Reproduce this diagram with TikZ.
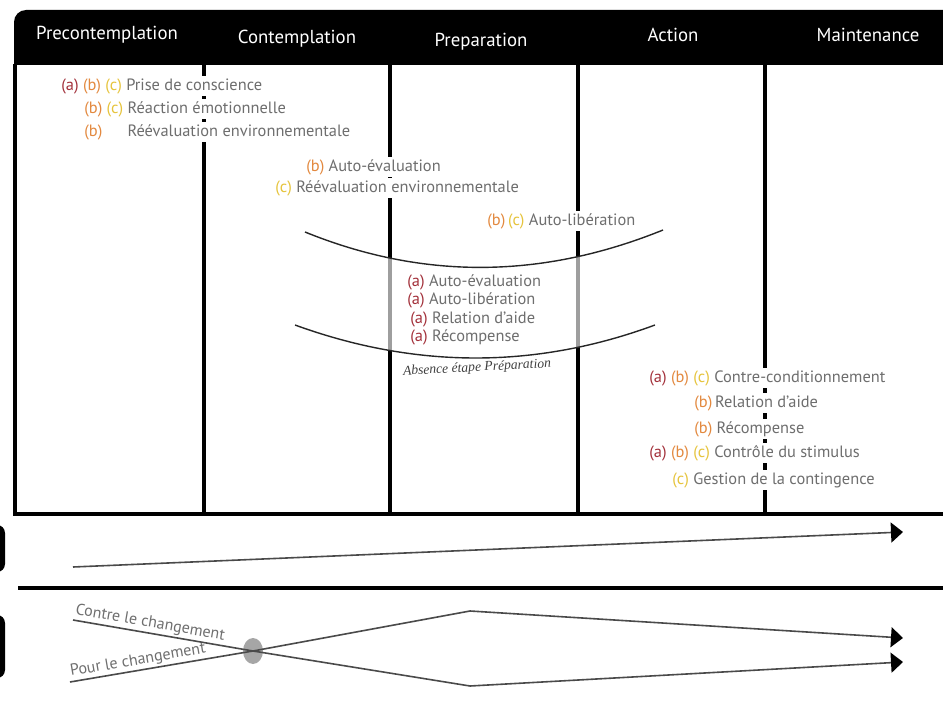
\documentclass[tikz,border=0pt]{standalone}
\usepackage{fontspec}
\setmainfont{PT Sans}
\newfontfamily\notefont{Liberation Serif}
\usetikzlibrary{arrows.meta,positioning,calc,shapes.geometric}
\definecolor{procA}{HTML}{A3313B}
\definecolor{procB}{HTML}{E3893F}
\definecolor{procC}{HTML}{E6C43C}
\definecolor{itemgray}{HTML}{6E6E6E}
\definecolor{linegray}{HTML}{4A4A4A}
\tikzset{
  stg/head/.style={text=white, font=\fontsize{9.4}{11}\selectfont, inner sep=1pt},
  stg/item/.style={fill=white, text=itemgray, font=\fontsize{8.2}{10}\selectfont, inner xsep=1pt, inner ysep=1.2pt, anchor=west},
  stg/note/.style={text=black!75, font=\notefont\itshape\fontsize{6.8}{8}\selectfont, inner sep=1pt},
  stg/frame/.style={line width=1.6pt},
  stg/divider/.style={line width=1.6pt},
  stg/arc/.style={line width=0.7pt, black!85},
  stg/veil/.style={fill=white, opacity=0.62},
  stg/tab/.style={fill=black, rounded corners=4pt},
  stg/trend/.style={line width=0.8pt, draw=linegray, -{Triangle[length=6pt,width=10pt,color=black]}},
  stg/tag/.style={text=itemgray, font=\fontsize{8}{10}\selectfont, inner sep=1pt},
  stg/knot/.style={ellipse, fill=black!35, minimum width=10pt, minimum height=13pt, inner sep=0pt}
}
\newcommand{\pa}{\textcolor{procA}{(a)}}
\newcommand{\pb}{\textcolor{procB}{(b)}}
\newcommand{\pc}{\textcolor{procC}{(c)}}

\begin{document}
\begin{tikzpicture}[x=0.5pt, y=-0.5pt]
  \clip (0,0) rectangle (943,701);
  % header band
  \fill[black] (14,65) [rounded corners=6pt] -- (14,10) [sharp corners] -- (950,10) -- (950,65) -- cycle;
  \node[stg/head] (hpre) at (107,35) {Precontemplation};
  \node[stg/head] (hcon) at (297,39) {Contemplation};
  \node[stg/head] (hprep) at (481,42) {Preparation};
  \node[stg/head] (hact) at (673,35) {Action};
  \node[stg/head] (hmain) at (868,35) {Maintenance};
  % frame and stage dividers
  \draw[stg/frame] (15,64) -- (15,514) -- (950,514);
  \foreach \x in {204,390,578,765}
    \draw[stg/divider] (\x,64) -- (\x,514);
  % arcs round the preparation block
  \coordinate (arcA1) at (305,232);
  \coordinate (arcAc1) at (423,280);
  \coordinate (arcAc2) at (542,279);
  \coordinate (arcA2) at (663,230);
  \coordinate (arcB1) at (295,325);
  \coordinate (arcBc1) at (416,369);
  \coordinate (arcBc2) at (536,369);
  \coordinate (arcB2) at (655,325);
  \begin{scope}
    \clip (386,0) rectangle (582,701);
    \fill[stg/veil] (arcA1) .. controls (arcAc1) and (arcAc2) .. (arcA2) -- (arcB2) .. controls (arcBc2) and (arcBc1) .. (arcB1) -- cycle;
  \end{scope}
  \draw[stg/arc] (arcA1) .. controls (arcAc1) and (arcAc2) .. (arcA2);
  \draw[stg/arc] (arcB1) .. controls (arcBc1) and (arcBc2) .. (arcB2);
  % precontemplation
  \node[stg/item] (pc1) at (59,86) {\pa{} \pb{} \pc{} Prise de conscience};
  \node[stg/item] (pc2) at (82,109) {\pb{} \pc{} Réaction émotionnelle};
  \node[stg/item] (pc3) at (82,132) {\pb{} \hphantom{\pc{}} Réévaluation environnementale};
  % contemplation
  \node[stg/item] (ct1) at (304,167) {\pb{} Auto-évaluation};
  \node[stg/item] (ct2) at (273,188) {\pc{} Réévaluation environnementale};
  % preparation
  \node[stg/item] (pr1) at (485,221) {\pb\,\pc{} Auto-libération};
  \node[stg/item, fill=none] (pr2) at (405,282) {\pa{} Auto-évaluation};
  \node[stg/item, fill=none] (pr3) at (405,300) {\pa{} Auto-libération};
  \node[stg/item, fill=none] (pr4) at (408,319) {\pa{} Relation d'aide};
  \node[stg/item, fill=none] (pr5) at (408,337) {\pa{} Récompense};
  \node[stg/note, rotate=3] (noprep) at (477,368) {Absence étape Préparation};
  % action
  \node[stg/item] (ac1) at (647,378) {\pa{} \pb{} \pc{} Contre-conditionnement};
  \node[stg/item] (ac2) at (692,403) {\pb\,Relation d'aide};
  \node[stg/item] (ac3) at (692,429) {\pb{} Récompense};
  \node[stg/item] (ac4) at (647,453) {\pa{} \pb{} \pc{} Contrôle du stimulus};
  \node[stg/item] (ac5) at (670,480) {\pc{} Gestion de la contingence};
  % lower panels
  \fill[stg/tab] (-12,525) rectangle (5,572);
  \fill[stg/tab] (-12,615) rectangle (5,678);
  \coordinate (mot0) at (73,567);
  \coordinate (mot1) at (903,532);
  \draw[stg/trend] (mot0) -- (mot1);
  \draw[stg/frame] (18,588) -- (950,588);
  \node[stg/knot] (cross) at (253,651) {};
  \coordinate (con0) at (73,620);
  \coordinate (conlow) at (470,686);
  \coordinate (conend) at (903,662);
  \coordinate (pour0) at (70,682);
  \coordinate (pourhigh) at (470,611);
  \coordinate (pourend) at (903,638);
  \draw[stg/trend] (con0) -- (cross.center) -- (conlow) -- (conend);
  \draw[stg/trend] (pour0) -- (cross.center) -- (pourhigh) -- (pourend);
  \path (con0) -- (cross.center) node[stg/tag, pos=0.42, sloped, above] (lbcon) {Contre le changement};
  \path (pour0) -- (cross.center) node[stg/tag, pos=0.38, sloped, above] (lbpour) {Pour le changement};
\end{tikzpicture}
\end{document}
